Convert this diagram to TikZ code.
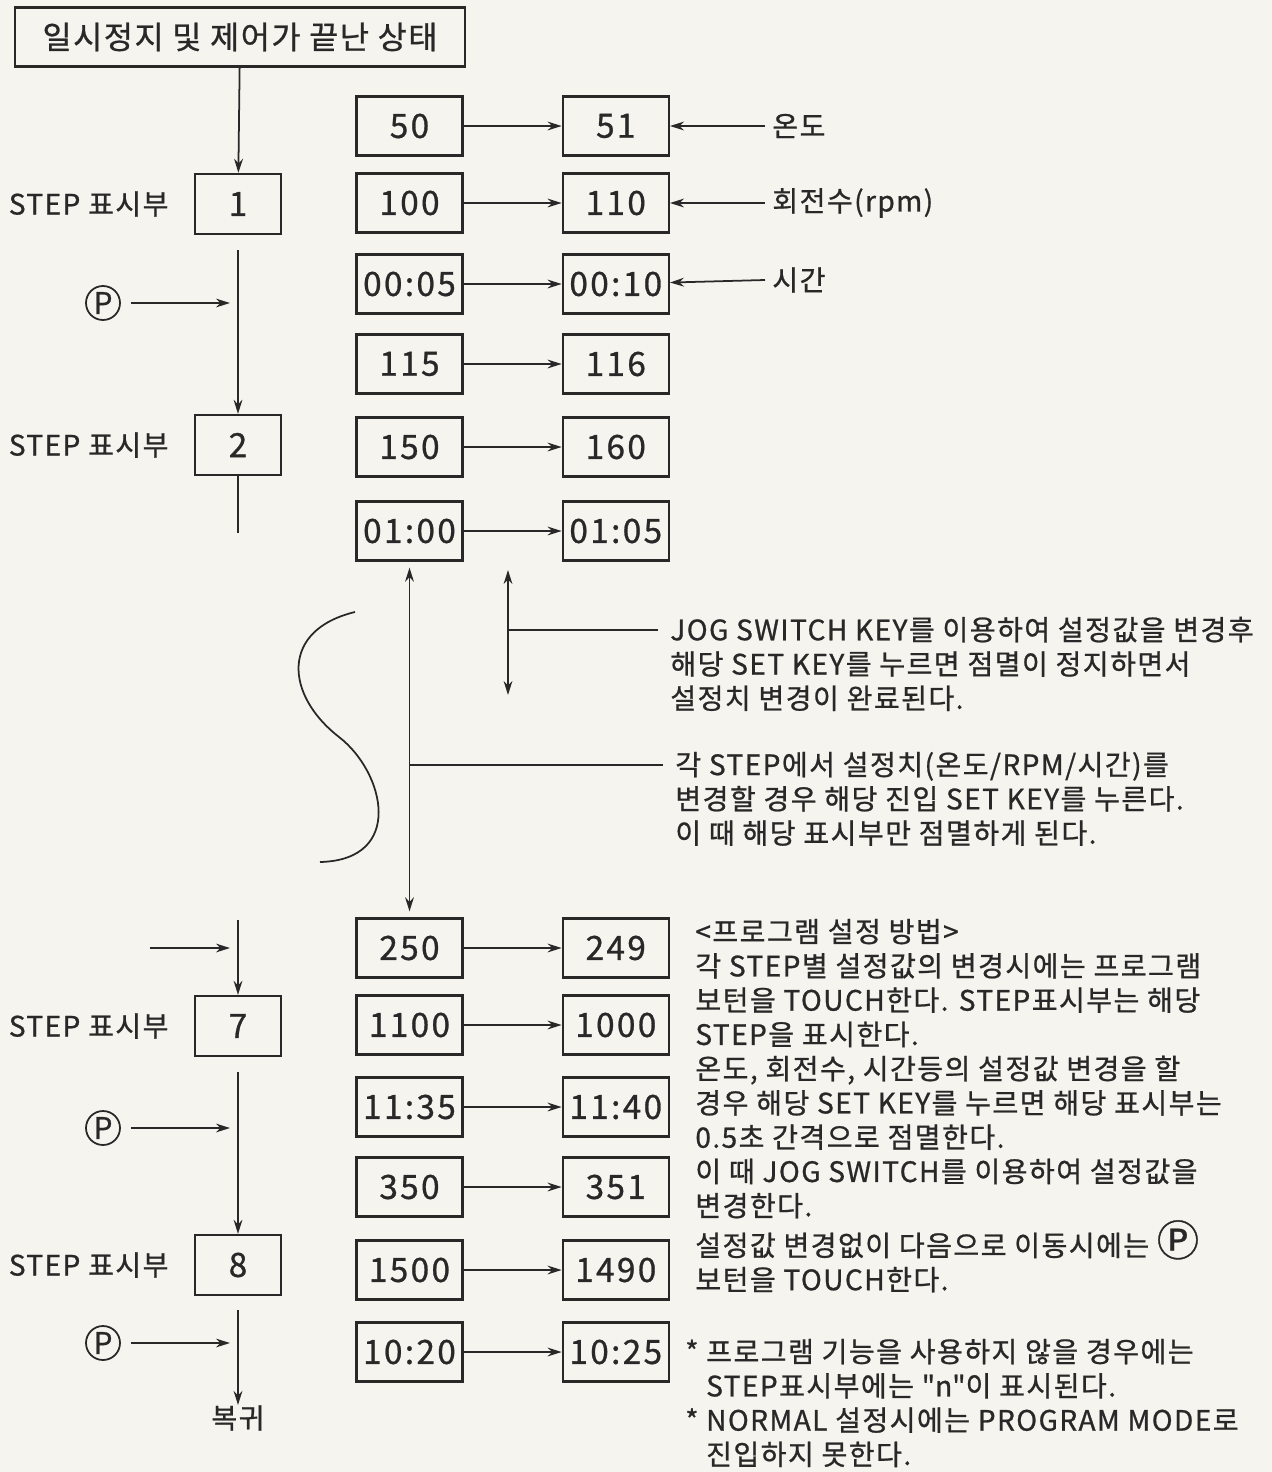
\documentclass[tikz,border=0pt]{standalone}
\usepackage{fontspec}
\setmainfont{Noto Sans CJK KR}[LetterSpace=5,FakeBold=0.8]
\newfontfamily\quotefont{Noto Sans CJK KR}[LetterSpace=5,FakeBold=0.8]
\usetikzlibrary{arrows.meta,positioning,calc}
\definecolor{paper}{RGB}{246,244,239}
\definecolor{ink}{RGB}{40,40,40}
\newcommand{\dq}{{\quotefont\symbol{34}}}
\tikzset{
  basebox/.style={rectangle,draw=ink,line width=1.3pt,align=center,inner sep=0pt,text=ink},
  headnode/.style={basebox,minimum width=9.0cm,minimum height=1.18cm,font=\fontsize{18}{20}\selectfont},
  stepnode/.style={basebox,minimum width=1.72cm,minimum height=1.2cm,font=\fontsize{19}{20}\selectfont},
  valnode/.style={basebox,minimum width=2.12cm,minimum height=1.18cm,font=\fontsize{19}{20}\selectfont\addfontfeatures{LetterSpace=7}},
  pnode/.style={circle,draw=ink,line width=1pt,minimum size=0.68cm,inner sep=0pt,text=ink,font=\fontsize{17}{18}\selectfont},
  lbl/.style={inner sep=0pt,text=ink,font=\fontsize{16}{18}\selectfont},
  note/.style={inner xsep=0.25cm,inner ysep=0pt,text=ink,align=left,font=\fontsize{16}{19.5}\selectfont},
  arr/.style={-{Stealth[length=8pt,width=5pt]},line width=1pt,color=ink},
  dblarr/.style={{Stealth[length=8pt,width=5pt]}-{Stealth[length=8pt,width=5pt]},line width=1pt,color=ink},
  plain/.style={line width=1pt,color=ink}
}

\begin{document}
\begin{tikzpicture}
  \fill[paper] (0,0) rectangle (25.44,-29.44);
  \useasboundingbox (0,0) rectangle (25.44,-29.44);

  % step column
  \node[headnode] (head) at (4.8,-0.74) {일시정지 및 제어가 끝난 상태};
  \node[stepnode] (s1) at (4.76,-4.08) {1};
  \node[stepnode] (s2) at (4.76,-8.9) {2};
  \node[stepnode] (s7) at (4.76,-20.52) {7};
  \node[stepnode] (s8) at (4.76,-25.3) {8};
  \node[lbl,left=0.5cm of s1] (l1) {STEP 표시부};
  \node[lbl,left=0.5cm of s2] (l2) {STEP 표시부};
  \node[lbl,left=0.5cm of s7] (l7) {STEP 표시부};
  \node[lbl,left=0.5cm of s8] (l8) {STEP 표시부};
  \node[pnode] (p1) at (2.06,-6.06) {P};
  \node[pnode] (p2) at (2.06,-22.56) {P};
  \node[pnode] (p3) at (2.06,-26.86) {P};
  \node[lbl] (ret) at (4.76,-28.36) {복귀};

  \coordinate (c1) at (4.76,-5.0);
  \coordinate (c2) at (4.76,-10.66);
  \coordinate (c3) at (4.76,-18.4);
  \coordinate (c4) at (4.76,-21.44);
  \coordinate (c5) at (4.76,-26.2);
  \coordinate (j1) at (4.6,-6.06);
  \coordinate (j2) at (4.6,-22.56);
  \coordinate (j3) at (4.6,-26.86);
  \coordinate (k1) at (3.0,-18.96);
  \coordinate (k2) at (4.6,-18.96);

  % set values
  \node[valnode] (t1) at (8.19,-2.52) {50};
  \node[valnode] (t2) at (8.19,-4.06) {100};
  \node[valnode] (t3) at (8.19,-5.68) {00:05};
  \node[valnode] (t4) at (8.19,-7.28) {115};
  \node[valnode] (t5) at (8.19,-8.94) {150};
  \node[valnode] (t6) at (8.19,-10.62) {01:00};
  \node[valnode] (t7) at (8.19,-18.96) {250};
  \node[valnode] (t8) at (8.19,-20.5) {1100};
  \node[valnode] (t9) at (8.19,-22.14) {11:35};
  \node[valnode] (t10) at (8.19,-23.74) {350};
  \node[valnode] (t11) at (8.19,-25.4) {1500};
  \node[valnode] (t12) at (8.19,-27.04) {10:20};

  \node[valnode,right=1.96cm of t1] (u1) {51};
  \node[valnode,right=1.96cm of t2] (u2) {110};
  \node[valnode,right=1.96cm of t3] (u3) {00:10};
  \node[valnode,right=1.96cm of t4] (u4) {116};
  \node[valnode,right=1.96cm of t5] (u5) {160};
  \node[valnode,right=1.96cm of t6] (u6) {01:05};
  \node[valnode,right=1.96cm of t7] (u7) {249};
  \node[valnode,right=1.96cm of t8] (u8) {1000};
  \node[valnode,right=1.96cm of t9] (u9) {11:40};
  \node[valnode,right=1.96cm of t10] (u10) {351};
  \node[valnode,right=1.96cm of t11] (u11) {1490};
  \node[valnode,right=1.96cm of t12] (u12) {10:25};

  \node[lbl,anchor=west] (lT) at (15.44,-2.52) {온도};
  \node[lbl,anchor=west] (lR) at (15.44,-4.06) {회전수(rpm)};
  \node[lbl,anchor=west] (lS) at (15.44,-5.6) {시간};

  % notes
  \node[note,anchor=north west] (noteA) at (13.15,-12.33)
    {JOG SWITCH KEY를 이용하여 설정값을 변경후\\해당 SET KEY를 누르면 점멸이 정지하면서\\설정치 변경이 완료된다.};
  \node[note,anchor=north west] (noteB) at (13.25,-15.03)
    {각 STEP에서 설정치(온도/RPM/시간)를\\변경할 경우 해당 진입 SET KEY를 누른다.\\이 때 해당 표시부만 점멸하게 된다.};
  \node[note,anchor=north west] (noteC) at (13.65,-18.37)
    {<프로그램 설정 방법>\\각 STEP별 설정값의 변경시에는 프로그램\\보턴을 TOUCH한다. STEP표시부는 해당\\STEP을 표시한다.\\온도, 회전수, 시간등의 설정값 변경을 할\\경우 해당 SET KEY를 누르면 해당 표시부는\\0.5초 간격으로 점멸한다.\\이 때 JOG SWITCH를 이용하여 설정값을\\변경한다.\\설정값 변경없이 다음으로 이동시에는 {\fontsize{24}{19.5}\selectfont Ⓟ}\\보턴을 TOUCH한다.};
  \node[note,anchor=north west] (noteD) at (13.45,-26.77)
    {* 프로그램 기능을 사용하지 않을 경우에는\\\phantom{*~}STEP표시부에는 \dq n\dq 이 표시된다.\\* NORMAL 설정시에는 PROGRAM MODE로\\\phantom{*~}진입하지 못한다.};

  \coordinate (jA) at (10.16,-12.6);
  \coordinate (jB) at (8.19,-15.3);

  % flow
  \draw[arr] (head) -- (s1);
  \draw[arr] (c1) -- (s2);
  \draw[plain] (s2) -- (c2);
  \draw[arr] (c3) -- (s7);
  \draw[arr] (c4) -- (s8);
  \draw[arr] (c5) -- (ret);
  \draw[arr] ([xshift=0.2cm]p1.east) -- (j1);
  \draw[arr] ([xshift=0.2cm]p2.east) -- (j2);
  \draw[arr] ([xshift=0.2cm]p3.east) -- (j3);
  \draw[arr] (k1) -- (k2);

  \draw[arr] (t1) -- (u1); \draw[arr] (t2) -- (u2); \draw[arr] (t3) -- (u3);
  \draw[arr] (t4) -- (u4); \draw[arr] (t5) -- (u5); \draw[arr] (t6) -- (u6);
  \draw[arr] (t7) -- (u7); \draw[arr] (t8) -- (u8); \draw[arr] (t9) -- (u9);
  \draw[arr] (t10) -- (u10); \draw[arr] (t11) -- (u11); \draw[arr] (t12) -- (u12);

  \draw[arr] ([xshift=-0.14cm]lT.west) -- (u1);
  \draw[arr] ([xshift=-0.14cm]lR.west) -- (u2);
  \draw[arr] ([xshift=-0.14cm]lS.west) -- (u3);

  \draw[dblarr] ([yshift=-0.12cm]t6.south) -- ([yshift=0.12cm]t7.north);
  \draw[dblarr] (10.16,-11.4) -- (10.16,-13.9);
  \draw[plain] (jA) -- (jA -| noteA.west);
  \draw[plain] (jB) -- (jB -| noteB.west);

  % break mark
  \draw[plain] (7.1,-12.24) .. controls (5.6,-12.6) and (5.7,-13.9) .. (6.78,-14.74)
    .. controls (7.7,-15.45) and (8.1,-17.2) .. (6.4,-17.24);
\end{tikzpicture}
\end{document}
